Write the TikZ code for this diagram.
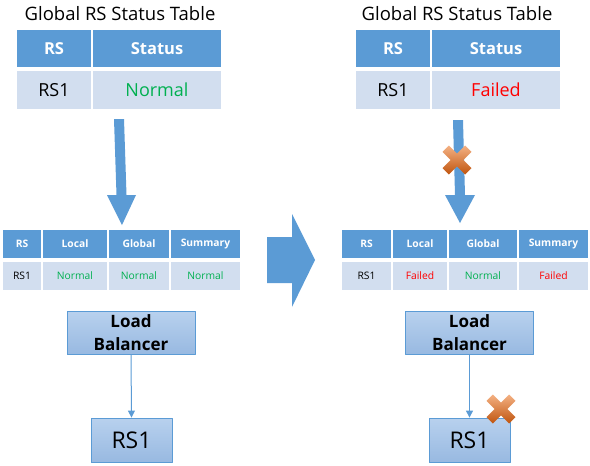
\documentclass[tikz,border=0pt]{standalone}
\usepackage{fontspec}
\setmainfont{Open Sans}
\usetikzlibrary{arrows.meta}
\definecolor{hdrblue}{HTML}{5B9BD5}
\definecolor{rowblue}{HTML}{D2DEEF}
\definecolor{okgreen}{HTML}{00B050}
\definecolor{badred}{HTML}{FF0000}
\definecolor{boxtop}{HTML}{B8D1EE}
\definecolor{boxbot}{HTML}{98B9E1}
\definecolor{xtop}{HTML}{F4B183}
\definecolor{xbot}{HTML}{C0550F}
\tikzset{
  title/.style={font=\fontsize{18.5}{21}\selectfont},
  bighead/.style={fill=hdrblue,text=white,font=\bfseries\fontsize{16.5}{19}\selectfont,minimum height=37pt,inner sep=0pt},
  bigcell/.style={fill=rowblue,font=\fontsize{18}{21}\selectfont,minimum height=38pt,inner sep=0pt},
  smallhead/.style={fill=hdrblue,text=white,font=\bfseries\fontsize{10.3}{12}\selectfont,minimum height=28pt,inner sep=0pt},
  smallcell/.style={fill=rowblue,font=\fontsize{10.3}{12}\selectfont,minimum height=28pt,inner sep=0pt},
  lbbox/.style={draw=hdrblue,line width=0.8pt,top color=boxtop,bottom color=boxbot,align=center,
    font=\bfseries\fontsize{17}{23}\selectfont,minimum width=128pt,minimum height=43pt,inner sep=0pt},
  rsbox/.style={draw=hdrblue,line width=0.8pt,top color=boxtop,bottom color=boxbot,
    font=\fontsize{23}{26}\selectfont,minimum width=81pt,minimum height=44pt,inner sep=0pt},
  link/.style={draw=hdrblue,line width=1pt,-{Triangle[width=7pt,length=7pt]}},
  blockarrow/.style={fill=hdrblue},
  failmark/.style={top color=xtop,bottom color=xbot}
}
\begin{document}
\begin{tikzpicture}[x=1pt,y=-1pt,line join=round]
\useasboundingbox (0,0) rectangle (590,466);
% global status tables
\node[title] (titleL) at (120,14) {Global RS Status Table};
\node[title] (titleR) at (457,14) {Global RS Status Table};
\node[bighead,minimum width=74pt] (ghL1) at (54,48.5) {RS};
\node[bighead,minimum width=128pt] (ghL2) at (157,48.5) {Status};
\node[bigcell,minimum width=74pt] (gbL1) at (54,90) {RS1};
\node[bigcell,minimum width=128pt,text=okgreen] (gbL2) at (157,90) {Normal};
\node[bighead,minimum width=74pt] (ghR1) at (393,48.5) {RS};
\node[bighead,minimum width=128pt] (ghR2) at (496,48.5) {Status};
\node[bigcell,minimum width=74pt] (gbR1) at (393,90) {RS1};
\node[bigcell,minimum width=128pt,text=badred] (gbR2) at (496,90) {Failed};
% local tables
\foreach \n/\x/\w/\t in {1/22/38/RS,2/75/64/Local,3/139/60/Global,4/205.5/69/Summary}
  \node[smallhead,minimum width=\w pt] (lhL\n) at (\x,244) {\t};
\foreach \n/\x/\w/\t/\c in {1/22/38/RS1/black,2/75/64/Normal/okgreen,3/139/60/Normal/okgreen,4/205.5/69/Normal/okgreen}
  \node[smallcell,minimum width=\w pt,text=\c] (lbL\n) at (\x,276) {\t};
\foreach \n/\x/\w/\t in {1/366.5/49/RS,2/420/54/Local,3/483/68/Global,4/553.5/69/Summary}
  \node[smallhead,minimum width=\w pt] (lhR\n) at (\x,244) {\t};
\foreach \n/\x/\w/\t/\c in {1/366.5/49/RS1/black,2/420/54/Failed/badred,3/483/68/Normal/okgreen,4/553.5/69/Failed/badred}
  \node[smallcell,minimum width=\w pt,text=\c] (lbR\n) at (\x,276) {\t};
% big arrows
\fill[blockarrow] (114,119) -- (124,119) -- (126.5,195) -- (136,195) -- (122,225) -- (107,195) -- (116.5,195) -- cycle;
\fill[blockarrow] (453,120) -- (463,120) -- (465,195) -- (475,195) -- (460,223) -- (445,195) -- (455,195) -- cycle;
\fill[blockarrow] (267,237) -- (292,237) -- (292,214) -- (315,260) -- (292,307) -- (292,283) -- (267,283) -- cycle;
% load balancers
\node[lbbox] (lbL) at (131,332.5) {Load\\Balancer};
\node[rsbox] (rsL) at (131.5,440) {RS1};
\draw[link] (lbL.south) -- (rsL.north);
\node[lbbox] (lbR) at (469.5,332.5) {Load\\Balancer};
\node[rsbox] (rsR) at (469.5,440) {RS1};
\draw[link] (lbR.south) -- (rsR.north);
% failure marks
\foreach \cx/\cy in {457/160,501/409}
  \shade[failmark,shift={(\cx,\cy)}] (8.13,14.5) -- (0,6.36) -- (-8.13,14.5) -- (-14.5,8.13) -- (-6.36,0)
    -- (-14.5,-8.13) -- (-8.13,-14.5) -- (0,-6.36) -- (8.13,-14.5) -- (14.5,-8.13) -- (6.36,0) -- (14.5,8.13) -- cycle;
\end{tikzpicture}
\end{document}
